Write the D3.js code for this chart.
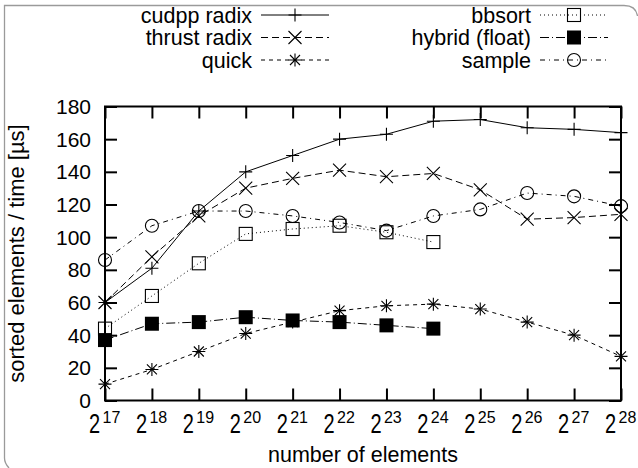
<html>
<head>
<meta charset="utf-8">
<script src="https://cdn.jsdelivr.net/npm/d3@7"></script>
<style>
body{
  margin:0;
  padding:0;
  background:white;
  overflow:hidden;
}
svg text{
  font-family: 'Liberation Sans', Arial, Helvetica, sans-serif;
  fill: black;
}
</style>
</head>
<body>
<div id="chart"></div>
<script>
//========== DATA =============
var exponents = [17, 18, 19, 20, 21, 22, 23, 24, 25, 26, 27, 28];
var yTicks = [0, 20, 40, 60, 80, 100, 120, 140, 160, 180];

var cudppRadix  = [60, 81, 116, 140, 150, 160, 163, 171, 172, 167, 166, 164];
var thrustRadix = [60, 88, 113, 130, 136, 141, 137, 139, 129, 111, 112, 114];
var quick       = [10, 19, 30, 41, 48, 55, 58, 59, 56, 48, 40, 27];
var bbsort      = [44, 64, 84, 102, 105, 107, 103, 97];
var hybrid      = [37, 47, 48, 51, 49, 48, 46, 44];
var sample      = [86, 107, 116, 116, 113, 109, 104, 113, 117, 127, 125, 119];

var seriesNames = ["cudpp radix", "thrust radix", "quick", "bbsort", "hybrid (float)", "sample"];
var seriesValues = [cudppRadix, thrustRadix, quick, bbsort, hybrid, sample];
var seriesDash = ["none", "7,4", "4,4", "1,3", "9,3,1,3", "5,4,1,4"];
var seriesMarker = ["plus", "cross", "star", "square", "filled", "circle"];

//========== SVG =============
var width = 638, height = 468;
var svg = d3.select("#chart").append("svg")
    .attr("width", width).attr("height", height);

// outer rounded frame (cropped screenshot)
svg.append("path")
    .attr("d", "M9,468 Q4.5,463 4.5,458 L4.5,5.5 L624,5.5 Q636,5.5 637.5,16")
    .attr("fill", "none")
    .attr("stroke", "#9a9a9a")
    .attr("stroke-width", 1.3);

var pLeft = 105, pRight = 621, pTop = 106.5, pBottom = 400.5;

var x = d3.scaleLog().base(2)
    .domain([Math.pow(2, 17), Math.pow(2, 28)])
    .range([pLeft, pRight]);
var y = d3.scaleLinear().domain([0, 180]).range([pBottom, pTop]);

var xTickVals = exponents.map(e => Math.pow(2, e));

// ticks, inside, mirrored
var axB = svg.append("g").attr("transform", "translate(0," + pBottom + ")")
    .call(d3.axisBottom(x).tickValues(xTickVals).tickSize(-12).tickFormat(""));
var axT = svg.append("g").attr("transform", "translate(0," + pTop + ")")
    .call(d3.axisTop(x).tickValues(xTickVals).tickSize(-12).tickFormat(""));
var axL = svg.append("g").attr("transform", "translate(" + pLeft + ",0)")
    .call(d3.axisLeft(y).tickValues(yTicks).tickSize(-12).tickFormat(""));
var axR = svg.append("g").attr("transform", "translate(" + pRight + ",0)")
    .call(d3.axisRight(y).tickValues(yTicks).tickSize(-12).tickFormat(""));

[axB, axT, axL, axR].forEach(a => {
  a.select(".domain").remove();
  a.selectAll(".tick text").remove();
  a.selectAll(".tick line").attr("stroke", "black").attr("stroke-width", 2);
});

// frame
svg.append("rect")
    .attr("x", pLeft).attr("y", pTop)
    .attr("width", pRight - pLeft).attr("height", pBottom - pTop)
    .attr("fill", "none").attr("stroke", "black").attr("stroke-width", 2);

// y tick labels
svg.selectAll(".ylab").data(yTicks).enter().append("text")
    .attr("x", 91)
    .attr("y", d => y(d) + 7.5)
    .attr("text-anchor", "end")
    .style("font-size", "21px")
    .text(d => d);

// x tick labels 2^n  (tall base "2", smaller exponent)
var xl = svg.selectAll(".xlab").data(exponents).enter().append("g")
    .attr("transform", d => "translate(" + x(Math.pow(2, d)) + ",0)");
xl.append("text")
    .attr("transform", "translate(-16,433) scale(1,1.4)")
    .style("font-size", "20px")
    .text("2");
xl.append("text")
    .attr("x", -2.5).attr("y", 422.5)
    .style("font-size", "16px")
    .text(d => d);

// axis titles
svg.append("text")
    .attr("x", (pLeft + pRight) / 2).attr("y", 462)
    .attr("text-anchor", "middle")
    .style("font-size", "21.5px")
    .text("number of elements");

svg.append("text")
    .attr("transform", "translate(24," + ((pTop + pBottom) / 2) + ") rotate(-90)")
    .attr("text-anchor", "middle")
    .style("font-size", "22px")
    .text("sorted elements / time [\u00b5s]");

//========== MARKERS =============
function drawMarker(g, type, cx, cy) {
  var s = 6.5;
  if (type === "plus" || type === "star") {
    g.append("path").attr("d", "M" + (cx - s) + "," + cy + "H" + (cx + s) + "M" + cx + "," + (cy - s) + "V" + (cy + s))
      .attr("stroke", "black").attr("stroke-width", 1.1);
  }
  if (type === "cross" || type === "star") {
    var c = type === "star" ? 5 : 6.5;
    g.append("path").attr("d", "M" + (cx - c) + "," + (cy - c) + "L" + (cx + c) + "," + (cy + c) + "M" + (cx - c) + "," + (cy + c) + "L" + (cx + c) + "," + (cy - c))
      .attr("stroke", "black").attr("stroke-width", 1.1);
  }
  if (type === "square") {
    g.append("rect").attr("x", cx - 6.5).attr("y", cy - 6.5).attr("width", 13).attr("height", 13)
      .attr("fill", "none").attr("stroke", "black").attr("stroke-width", 1.1);
  }
  if (type === "filled") {
    g.append("rect").attr("x", cx - 7).attr("y", cy - 7).attr("width", 14).attr("height", 14)
      .attr("fill", "black");
  }
  if (type === "circle") {
    g.append("circle").attr("cx", cx).attr("cy", cy).attr("r", 6.5)
      .attr("fill", "none").attr("stroke", "black").attr("stroke-width", 1.1);
  }
}

//========== SERIES =============
var line = d3.line()
    .x((d, i) => x(Math.pow(2, exponents[i])))
    .y(d => y(d));

seriesValues.forEach((vals, k) => {
  var g = svg.append("g");
  g.append("path")
      .datum(vals)
      .attr("d", line)
      .attr("fill", "none")
      .attr("stroke", "black")
      .attr("stroke-width", 1)
      .attr("stroke-dasharray", seriesDash[k]);
  vals.forEach((v, i) => drawMarker(g, seriesMarker[k], x(Math.pow(2, exponents[i])), y(v)));
});

//========== LEGEND =============
var legendRows = [15, 37.5, 60];
seriesNames.forEach((name, k) => {
  var col = Math.floor(k / 3), row = k % 3;
  var off = col * 279;
  var ly = legendRows[row];
  var g = svg.append("g");
  g.append("text")
      .attr("x", 252 + off).attr("y", ly + 7.5)
      .attr("text-anchor", "end")
      .style("font-size", "21.5px")
      .text(name);
  g.append("path")
      .attr("d", "M" + (261 + off) + "," + ly + "H" + (329 + off))
      .attr("stroke", "black").attr("stroke-width", 1)
      .attr("stroke-dasharray", seriesDash[k]);
  drawMarker(g, seriesMarker[k], 295 + off, ly);
});
</script>
</body>
</html>
